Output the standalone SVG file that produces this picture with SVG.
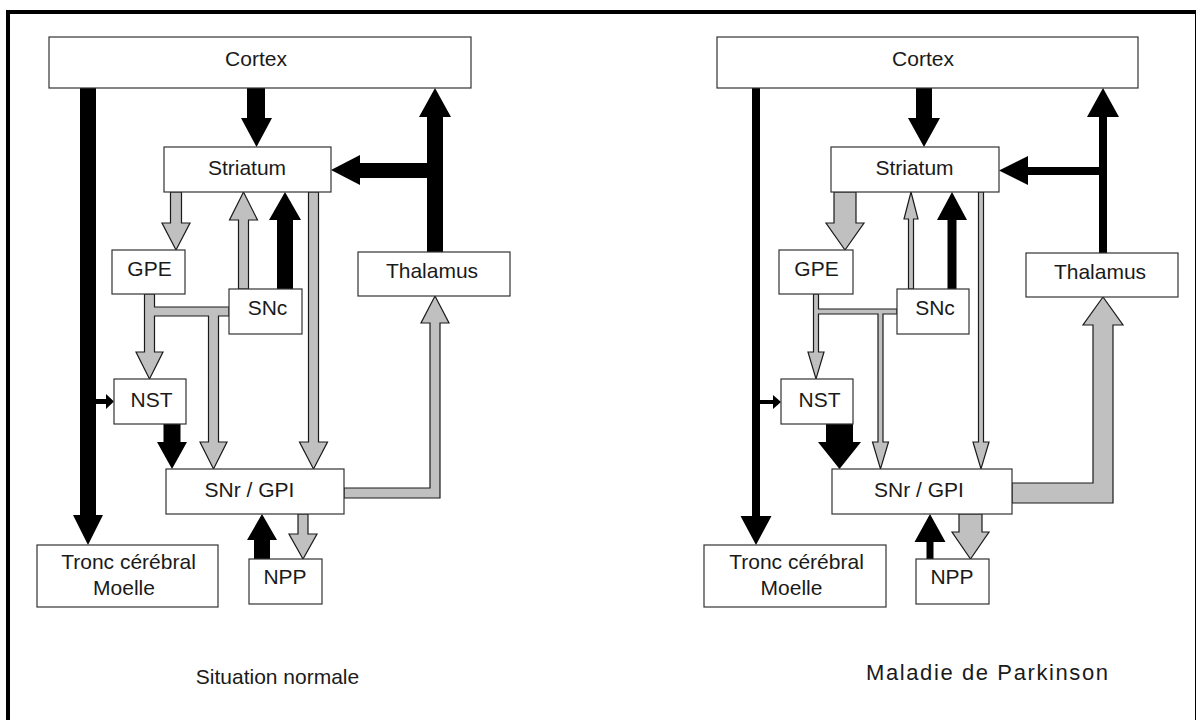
<svg xmlns="http://www.w3.org/2000/svg" width="1196" height="720" viewBox="0 0 1196 720">
<style>
.box{fill:#fff;stroke:#333;stroke-width:1.2}
.t{font-family:"Liberation Sans",Arial,sans-serif;font-size:21px;fill:#1a1a1a;text-anchor:middle}
.blk{fill:#000;stroke:none}
.gry{fill:#c0c0c0;stroke:#1a1a1a;stroke-width:1.2;stroke-linejoin:miter}
</style>
<rect x="0" y="0" width="1196" height="720" fill="#fff"/>
<g id="frame" fill="none" stroke="#000">
<path d="M8 720 V12 H1196" stroke-width="4"/>
<path d="M1195.5 12 V720" stroke-width="1"/>
</g>

<g id="connectors">
<!-- Left panel -->
<polygon class="blk" points="247,88 247,118 241,118 256.5,147 272,118 265,118 265,88"/>
<polygon class="blk" points="80,88 80,515 73,515 88,545 103,515 96,515 96,88"/>
<polygon class="blk" points="96,399 106,399 106,394 114,401.5 106,409 106,404 96,404"/>
<polygon class="blk" points="427,252 427,178 360,178 360,185 331,170 360,155 360,163 427,163 427,117 419,117 435,88 451,117 443,117 443,252"/>
<polygon class="gry" points="344,488 430,488 430,323 421,323 435,296 449,323 440,323 440,498 344,498"/>
<polygon class="gry" points="170.5,192 170.5,223 162,223 176,250 190,223 181.5,223 181.5,192"/>
<polygon class="gry" points="238.5,289 238.5,220 229.5,220 243.5,192 257.5,220 248.5,220 248.5,289"/>
<polygon class="blk" points="277,289 277,220 269,220 285,192 301,220 293,220 293,289"/>
<polygon class="gry" points="308.5,192 308.5,442 299.5,442 313.5,469 327.5,442 318.5,442 318.5,192"/>
<polygon class="gry" points="144.5,294 144.5,352 136,352 149.5,379 163,352 154.5,352 154.5,316 208.5,316 208.5,442 200,442 213.5,469 227,442 218.5,442 218.5,316 229,316 229,307 154.5,307 154.5,294"/>
<polygon class="blk" points="163.5,424 163.5,442 157,442 172,469 187,442 180.5,442 180.5,424"/>
<polygon class="blk" points="254,559 254,540 247,540 262,514 277,540 270,540 270,559"/>
<polygon class="gry" points="298,514 298,534 289,534 303,559 317,534 308,534 308,514"/>
<!-- Right panel -->
<polygon class="blk" points="916,88 916,118 908,118 924,147 940,118 932,118 932,88"/>
<polygon class="blk" points="752,88 752,516 740.5,516 756,545 771.5,516 760,516 760,88"/>
<polygon class="blk" points="760,400 773,400 773,395 781,402 773,409 773,404 760,404"/>
<polygon class="blk" points="1099,253 1099,175 1028,175 1028,185 999,170.5 1028,156 1028,167 1099,167 1099,117 1087,117 1103,88 1119,117 1107,117 1107,253"/>
<polygon class="gry" points="1012,483 1093,483 1093,325 1083,325 1103,297 1123,325 1113,325 1113,503 1012,503"/>
<polygon class="gry" points="834,192 834,223 826,223 845,250 864,223 856,223 856,192"/>
<polygon class="gry" points="908.5,289 908.5,219 904,219 911,192 918,219 913.5,219 913.5,289"/>
<polygon class="blk" points="947.5,289 947.5,220 937,220 952,192 967,220 956.5,220 956.5,289"/>
<polygon class="gry" points="978.5,192 978.5,442 973,442 981,469 989,442 983.5,442 983.5,192"/>
<polygon class="gry" points="813.5,294 813.5,352 808,352 816,379 824,352 818.5,352 818.5,314 878,314 878,442 872.5,442 880.5,469 888.5,442 883,442 883,314 897,314 897,309 818.5,309 818.5,294"/>
<polygon class="blk" points="826,424 826,442 818,442 839.5,469 861,442 853,442 853,424"/>
<polygon class="blk" points="926.5,559 926.5,542 914.5,542 930,514 945.5,542 933.5,542 933.5,559"/>
<polygon class="gry" points="959,514 959,532 952,532 970.5,559 989,532 982,532 982,514"/>
</g>

<!-- Left panel nodes -->
<g id="L-cortex"><rect class="box" x="49" y="37" width="422" height="51"/><text class="t" x="256" y="66">Cortex</text></g>
<g id="L-striatum"><rect class="box" x="164" y="147" width="167" height="45"/><text class="t" x="247" y="175">Striatum</text></g>
<g id="L-gpe"><rect class="box" x="112" y="250" width="73" height="44"/><text class="t" x="149.5" y="276">GPE</text></g>
<g id="L-snc"><rect class="box" x="229" y="289" width="73" height="45"/><text class="t" x="267.5" y="315">SNc</text></g>
<g id="L-nst"><rect class="box" x="114" y="379" width="72" height="45"/><text class="t" x="151.5" y="407">NST</text></g>
<g id="L-thalamus"><rect class="box" x="358" y="252" width="152" height="44"/><text class="t" x="432" y="278">Thalamus</text></g>
<g id="L-snr"><rect class="box" x="166" y="469" width="178" height="45"/><text class="t" x="249.5" y="497">SNr / GPI</text></g>
<g id="L-npp"><rect class="box" x="249" y="559" width="73" height="45"/><text class="t" x="285" y="584">NPP</text></g>
<g id="L-tronc"><rect class="box" x="37" y="545" width="181" height="62"/><text class="t" x="128.5" y="569">Tronc cérébral</text><text class="t" x="124" y="595">Moelle</text></g>
<g id="L-caption"><text class="t" x="277.5" y="684">Situation normale</text></g>

<!-- Right panel nodes -->
<g id="R-cortex"><rect class="box" x="717" y="37" width="421" height="51"/><text class="t" x="923" y="66">Cortex</text></g>
<g id="R-striatum"><rect class="box" x="831" y="147" width="168" height="45"/><text class="t" x="914.5" y="175">Striatum</text></g>
<g id="R-gpe"><rect class="box" x="779" y="250" width="74" height="44"/><text class="t" x="816.5" y="276">GPE</text></g>
<g id="R-snc"><rect class="box" x="897" y="289" width="72" height="45"/><text class="t" x="935" y="315">SNc</text></g>
<g id="R-nst"><rect class="box" x="781" y="379" width="72" height="45"/><text class="t" x="819.5" y="407">NST</text></g>
<g id="R-thalamus"><rect class="box" x="1026" y="253" width="152" height="44"/><text class="t" x="1100" y="279">Thalamus</text></g>
<g id="R-snr"><rect class="box" x="832" y="469" width="180" height="45"/><text class="t" x="919" y="497">SNr / GPI</text></g>
<g id="R-npp"><rect class="box" x="916" y="559" width="73" height="45"/><text class="t" x="952" y="584">NPP</text></g>
<g id="R-tronc"><rect class="box" x="704" y="545" width="182" height="62"/><text class="t" x="796.5" y="569">Tronc cérébral</text><text class="t" x="791.5" y="595">Moelle</text></g>
<g id="R-caption"><text class="t" x="987" y="680" style="font-size:22px" textLength="242" lengthAdjust="spacing">Maladie de Parkinson</text></g>
</svg>
